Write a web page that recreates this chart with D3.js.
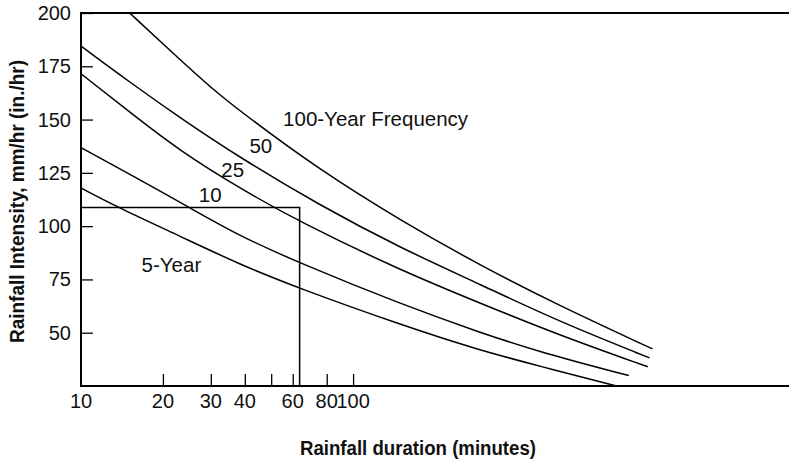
<!DOCTYPE html>
<html>
<head>
<meta charset="utf-8">
<script src="https://cdn.jsdelivr.net/npm/d3@7"></script>
<style>
  html, body { margin: 0; padding: 0; background: #fff; }
  svg { display: block; }
</style>
</head>
<body>
<svg id="chart" width="789" height="467"></svg>
<script>
// ---- data ----
const xTickValues = [10, 20, 30, 40, 50, 60, 80, 100];
const xTickLabels = ["10", "20", "30", "40", "", "60", "80", "100"];
const yTickValues = [50, 75, 100, 125, 150, 175, 200];

// [duration (min), intensity (mm/hr)]
const year5   = [[10,117.9],[13.8,108.5],[23.2,95.2],[38.5,81.9],[63.6,70.7],[149.2,53.8],[285.7,42.1],[488.5,34.2],[929,25.0]];
const year10  = [[10,136.8],[15.2,124.2],[25.2,108.5],[38.5,95.2],[63.6,82.7],[149.2,63.5],[293.8,50.0],[488.5,40.8],[1031,29.9]];
const year25  = [[10,171.5],[15.2,153.2],[23.2,135.1],[38.5,117.6],[63.6,102.0],[149.2,79.3],[293.8,63.8],[578.9,48.6],[1211,34.0]];
const year50  = [[10,184.5],[15.2,167.3],[23.2,150.7],[38.5,132.0],[75.8,109.6],[149.2,89.8],[293.8,72.6],[578.9,54.9],[1229,38.2]];
const year100 = [[15.1,200],[23.2,177.9],[29.9,165.2],[38.5,153.8],[75.8,126.1],[149.2,102.7],[293.8,81.5],[578.9,62.4],[1260,42.4]];

const seriesNames = ["5-Year", "10", "25", "50", "100-Year Frequency"];
const seriesData = [year5, year10, year25, year50, year100];
// label anchor points [duration, intensity] (start of text, baseline)
const labelPos = [[16.7,78.5],[27.1,111.2],[32.8,123.1],[41.6,134.3],[55.3,146.8]];

// reference lines: design duration / intensity
const refDuration = 63.6;
const refIntensity = 108.7;

// ---- layout ----
const svg = d3.select("#chart");
const mLeft = 81, mRight = 789, mTop = 13, mBottom = 386;

const x = d3.scaleLog().domain([10, 4000]).range([mLeft, mRight]);
const y = d3.scaleLinear().domain([25, 200]).range([mBottom, mTop]);

const font = "'Liberation Sans', Arial, Helvetica, sans-serif";

svg.append("defs").append("clipPath").attr("id", "plotclip")
  .append("rect").attr("x", mLeft).attr("y", mTop).attr("width", mRight - mLeft).attr("height", mBottom - mTop);

// curves
const line = d3.line()
  .x(d => x(d[0]))
  .y(d => y(d[1]))
  .curve(d3.curveBasis);

svg.append("g").attr("clip-path", "url(#plotclip)")
  .selectAll("path")
  .data(seriesData)
  .join("path")
  .attr("d", line)
  .attr("fill", "none")
  .attr("stroke", "#000")
  .attr("stroke-width", 1.5);

// reference lines
svg.append("path")
  .attr("d", `M${x(10)},${y(refIntensity)}H${x(refDuration)}V${y(25)}`)
  .attr("fill", "none")
  .attr("stroke", "#000")
  .attr("stroke-width", 1.5);

// x axis (ticks inward)
const xAxis = d3.axisTop(x)
  .tickValues(xTickValues.slice(1))
  .tickSize(12)
  .tickSizeOuter(0)
  .tickFormat("");
const gx = svg.append("g").attr("transform", `translate(0,${mBottom})`).call(xAxis);
gx.select(".domain").remove();
gx.selectAll(".tick line").attr("stroke", "#000").attr("stroke-width", 1.3);

svg.append("g").selectAll("text")
  .data(xTickValues.map((v, i) => [v, xTickLabels[i]]).filter(d => d[1] !== ""))
  .join("text")
  .attr("x", d => x(d[0]))
  .attr("y", 408)
  .attr("text-anchor", "middle")
  .attr("font-family", font)
  .attr("font-size", 20)
  .attr("fill", "#111")
  .text(d => d[1]);

// y axis (ticks inward)
const yAxis = d3.axisRight(y)
  .tickValues(yTickValues)
  .tickSize(12)
  .tickSizeOuter(0)
  .tickFormat("");
const gy = svg.append("g").attr("transform", `translate(${mLeft},0)`).call(yAxis);
gy.select(".domain").remove();
gy.selectAll(".tick line").attr("stroke", "#000").attr("stroke-width", 1.3);

svg.append("g").selectAll("text")
  .data(yTickValues)
  .join("text")
  .attr("x", 71)
  .attr("y", d => y(d))
  .attr("dy", "0.35em")
  .attr("text-anchor", "end")
  .attr("font-family", font)
  .attr("font-size", 20)
  .attr("fill", "#111")
  .text(d => d);

// frame: left, top, bottom
svg.append("path")
  .attr("d", `M${mRight},${mTop}H${mLeft}V${mBottom}H${mRight}`)
  .attr("fill", "none")
  .attr("stroke", "#000")
  .attr("stroke-width", 2);

// curve labels
svg.append("g").selectAll("text")
  .data(seriesNames.map((n, i) => [n, labelPos[i]]))
  .join("text")
  .attr("x", d => x(d[1][0]))
  .attr("y", d => y(d[1][1]))
  .attr("font-family", font)
  .attr("font-size", 20.5)
  .attr("fill", "#111")
  .text(d => d[0]);

// axis titles
svg.append("text")
  .attr("x", 300)
  .attr("y", 455)
  .attr("font-family", font)
  .attr("font-weight", "bold")
  .attr("font-size", 19.5)
  .attr("textLength", 236)
  .attr("lengthAdjust", "spacingAndGlyphs")
  .attr("fill", "#111")
  .text("Rainfall duration (minutes)");

svg.append("text")
  .attr("transform", "translate(24,201.5) rotate(-90)")
  .attr("text-anchor", "middle")
  .attr("font-family", font)
  .attr("font-weight", "bold")
  .attr("font-size", 20)
  .attr("textLength", 283)
  .attr("lengthAdjust", "spacingAndGlyphs")
  .attr("fill", "#111")
  .text("Rainfall Intensity, mm/hr (in./hr)");
</script>
</body>
</html>
